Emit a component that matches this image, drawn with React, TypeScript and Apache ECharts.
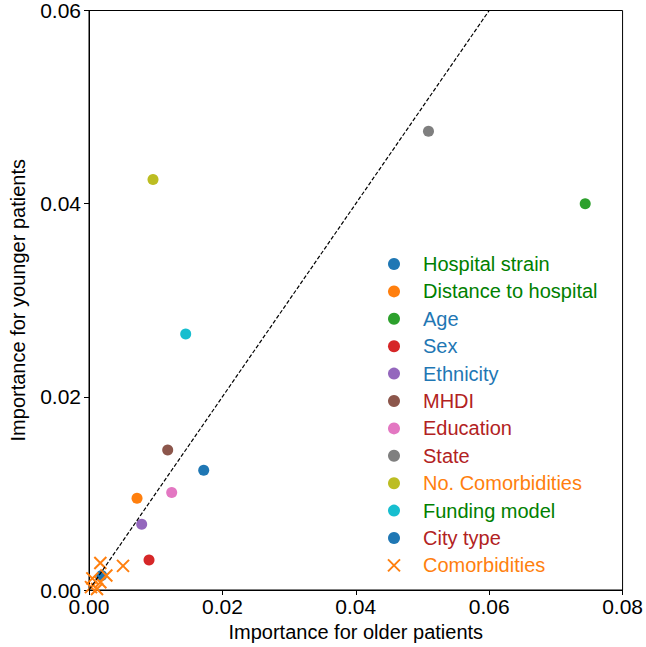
import React, { useEffect, useRef } from "react";
import * as echarts from "echarts";

const featureNames = [
  "Hospital strain",
  "Distance to hospital",
  "Age",
  "Sex",
  "Ethnicity",
  "MHDI",
  "Education",
  "State",
  "No. Comorbidities",
  "Funding model",
  "City type",
];
const olderImportance = [0.0172, 0.0072, 0.0744, 0.009, 0.0079, 0.0118, 0.0124, 0.0509, 0.0096, 0.0145, 0.0019];
const youngerImportance = [0.0124, 0.0095, 0.04, 0.0031, 0.0068, 0.0145, 0.0101, 0.0475, 0.0425, 0.0265, 0.0015];
const markerColors = [
  "#1f77b4", "#ff7f0e", "#2ca02c", "#d62728", "#9467bd", "#8c564b",
  "#e377c2", "#7f7f7f", "#bcbd22", "#17becf", "#1f77b4",
];
const labelColors = [
  "#008000", "#008000", "#1f77b4", "#1f77b4", "#1f77b4", "#b22222",
  "#b22222", "#b22222", "#ff7f0e", "#008000", "#b22222",
];

const comorbName = "Comorbidities";
const comorbOlder = [0.0051, 0.0017, 0.0026, 0.0005, 0.0017, 0.0003, 0.0012];
const comorbYounger = [0.0025, 0.0028, 0.0015, 0.0012, 0.0008, 0.0003, 0.0001];
const comorbColor = "#ff7f0e";
const comorbLabelColor = "#ff7f0e";

const xTicks = [0, 0.02, 0.04, 0.06, 0.08];
const yTicks = [0, 0.02, 0.04, 0.06];
const diagonal = [[0, 0], [0.06, 0.06]];

const FONT = "'Liberation Sans', Arial, Helvetica, sans-serif";
const CROSS = "path://M0,0L10,10M10,0L0,10";

export default function App() {
  const ref = useRef<HTMLDivElement>(null);
  useEffect(() => {
    if (!ref.current) return;
    const chart = echarts.init(ref.current, undefined, { renderer: "svg" });
    const circleSeries = featureNames.map((name, i) => ({
      name,
      type: "scatter",
      symbol: "circle",
      symbolSize: 11,
      itemStyle: { color: markerColors[i], opacity: 1 },
      data: [[olderImportance[i], youngerImportance[i]]],
      z: 2,
    }));
    const legendText = (color: string) => ({
      color,
      fontSize: 20,
      lineHeight: 20,
      fontFamily: FONT,
      padding: [0, 0, 0, 18],
    });
    const option: any = {
      animation: false,
      backgroundColor: "#ffffff",
      textStyle: { fontFamily: FONT },
      grid: {
        left: 81,
        right: 21,
        top: 7,
        bottom: 57,
        show: true,
        borderColor: "#000",
        borderWidth: 1,
        backgroundColor: "transparent",
      },
      xAxis: {
        type: "value",
        min: xTicks[0],
        max: xTicks[xTicks.length - 1],
        interval: 0.02,
        name: "Importance for older patients",
        nameLocation: "middle",
        nameGap: 30,
        nameTextStyle: { fontSize: 20, color: "#000", fontFamily: FONT },
        axisLine: { show: true, lineStyle: { color: "#000", width: 1 } },
        axisTick: { show: true, inside: false, length: 5, lineStyle: { color: "#000" } },
        axisLabel: {
          fontSize: 21,
          color: "#000",
          margin: 6,
          fontFamily: FONT,
          formatter: (v: number) => v.toFixed(2),
        },
        splitLine: { show: false },
      },
      yAxis: {
        type: "value",
        min: yTicks[0],
        max: yTicks[yTicks.length - 1],
        interval: 0.02,
        name: "Importance for younger patients",
        nameLocation: "middle",
        nameGap: 61,
        nameTextStyle: { fontSize: 20, color: "#000", fontFamily: FONT },
        axisLine: { show: true, lineStyle: { color: "#000", width: 1 } },
        axisTick: { show: true, inside: false, length: 5, lineStyle: { color: "#000" } },
        axisLabel: {
          fontSize: 21,
          color: "#000",
          margin: 8,
          fontFamily: FONT,
          formatter: (v: number) => v.toFixed(2),
        },
        splitLine: { show: false },
      },
      legend: {
        orient: "vertical",
        left: 382,
        top: 249,
        itemWidth: 12,
        itemHeight: 12,
        itemGap: 7.4,
        selectedMode: false,
        textStyle: legendText("#000"),
        data: [
          ...featureNames.map((name, i) => ({
            name,
            icon: "circle",
            itemStyle: { opacity: 1 },
            textStyle: legendText(labelColors[i]),
          })),
          {
            name: comorbName,
            textStyle: legendText(comorbLabelColor),
          },
        ],
      },
      series: [
        ...circleSeries,
        {
          name: comorbName,
          type: "scatter",
          symbol: CROSS,
          symbolSize: 12,
          itemStyle: { color: "rgba(0,0,0,0)", borderColor: comorbColor, borderWidth: 2, opacity: 1 },
          data: comorbOlder.map((x, i) => [x, comorbYounger[i]]),
          z: 3,
        },
        {
          name: "y = x",
          type: "line",
          data: diagonal,
          symbol: "none",
          lineStyle: { color: "#000", width: 1.2, type: [4, 2] },
          z: 4,
          silent: true,
        },
      ],
    };
    chart.setOption(option);
    return () => chart.dispose();
  }, []);
  return (
    <div
      ref={ref}
      style={{ position: "fixed", left: 0, top: 0, width: 646, height: 647, background: "#fff" }}
    />
  );
}
